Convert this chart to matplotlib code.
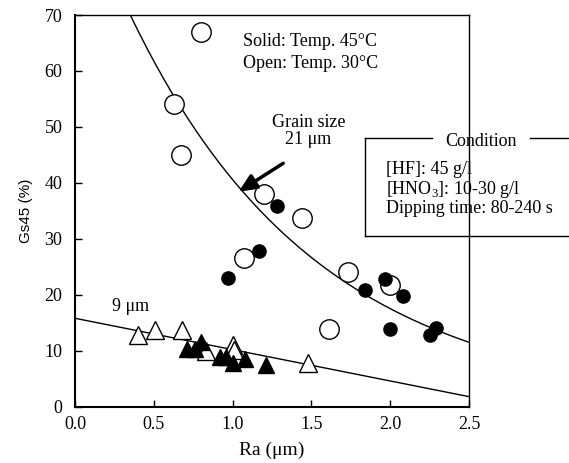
import numpy as np
import matplotlib
matplotlib.use("Agg")
import matplotlib.pyplot as plt
from matplotlib.lines import Line2D

plt.rcParams['font.family'] = ['Liberation Serif', 'DejaVu Serif']
plt.rcParams['mathtext.fontset'] = 'custom'
plt.rcParams['mathtext.rm'] = 'Liberation Serif'

# Grain size 21 um, open = 30 C, solid = 45 C
open_circ_x = [0.80, 0.63, 0.67, 1.20, 1.44, 1.07, 1.73, 2.00, 1.61]
open_circ_y = [66.9, 54.1, 45.0, 38.0, 33.8, 26.6, 24.0, 21.7, 13.9]
solid_circ_x = [1.28, 1.17, 0.97, 1.84, 1.97, 2.08, 2.00, 2.25, 2.29]
solid_circ_y = [35.9, 27.8, 23.0, 20.9, 22.8, 19.8, 13.9, 12.8, 14.0]

# Grain size 9 um
open_tri_x = [0.40, 0.51, 0.68, 0.83, 1.00, 1.01, 1.48]
open_tri_y = [12.8, 13.7, 13.7, 10.0, 11.0, 10.2, 7.8]
solid_tri_x = [0.71, 0.76, 0.80, 0.92, 0.96, 1.00, 1.08, 1.21]
solid_tri_y = [10.4, 10.4, 11.5, 8.8, 8.8, 7.8, 8.5, 7.5]

# fitted curves
upper_a, upper_k = 94.0, 0.84
lower_a, lower_b = 15.8, -5.6

fig = plt.figure(figsize=(5.69, 4.63), dpi=100)
ax = fig.add_axes([0.1318, 0.1216, 0.6925, 0.846])

xs = np.linspace(0.0, 2.5, 200)
ax.plot(xs, upper_a * np.exp(-upper_k * xs), color='black', lw=1.0)
ax.plot(xs, lower_a + lower_b * xs, color='black', lw=1.0)

ax.plot(open_circ_x, open_circ_y, 'o', ms=14, mfc='white', mec='black', mew=1.0, ls='none')
ax.plot(solid_circ_x, solid_circ_y, 'o', ms=9.5, mfc='black', mec='black', ls='none')
ax.plot(open_tri_x, open_tri_y, '^', ms=13, mfc='white', mec='black', mew=1.0, ls='none')
ax.plot(solid_tri_x, solid_tri_y, '^', ms=11, mfc='black', mec='black', ls='none')

ax.set_xlim(0, 2.5)
ax.set_ylim(0, 70)
ax.set_xticks([0.0, 0.5, 1.0, 1.5, 2.0, 2.5])
ax.set_xticklabels(['0.0', '0.5', '1.0', '1.5', '2.0', '2.5'])
ax.set_yticks(range(0, 71, 10))
ax.tick_params(direction='in', length=5, labelsize=13, width=1.0)
ax.tick_params(axis='y', pad=9)
ax.tick_params(axis='x', pad=7)
for s in ax.spines.values():
    s.set_linewidth(1.0)
ax.spines['left'].set_linewidth(1.5)
ax.spines['bottom'].set_linewidth(1.5)

ax.set_xlabel('Ra (μm)', fontsize=14, labelpad=6)
ax.set_ylabel('Gs45 (%)', fontsize=11, family='Liberation Sans', labelpad=8)

ax.text(1.067, 65.2, 'Solid: Temp. 45°C', fontsize=13, va='center')
ax.text(1.067, 61.3, 'Open: Temp. 30°C', fontsize=13, va='center')
ax.text(1.48, 49.3, 'Grain size\n21 μm', fontsize=13, ha='center', va='center',
        linespacing=1.0)
ax.annotate('', xy=(1.037, 38.4), xytext=(1.321, 43.5),
            arrowprops=dict(arrowstyle='-|>,head_width=0.4,head_length=0.9',
                            lw=2.5, color='black', mutation_scale=12,
                            shrinkA=0, shrinkB=0))
ax.text(0.235, 17.9, '9 μm', fontsize=13, va='center')

# condition box, cut by the right edge of the figure
bl, bt, bb = 365 / 569, 1 - 138.3 / 463, 1 - 236 / 463
for seg in [([bl, 432 / 569], [bt, bt]), ([530 / 569, 1.0], [bt, bt]),
            ([bl, 1.0], [bb, bb]), ([bl, bl], [bt, bb])]:
    fig.add_artist(Line2D(seg[0], seg[1], color='black', lw=1.0))
fig.text(481 / 569, 1 - 141 / 463, 'Condition', fontsize=13, ha='center', va='center')
fig.text(386 / 569, 1 - 169.3 / 463, '[HF]: 45 g/l', fontsize=13, va='center')
fig.text(386 / 569, 1 - 189.3 / 463, '[HNO$_3$]: 10-30 g/l', fontsize=13, va='center')
fig.text(386 / 569, 1 - 208.3 / 463, 'Dipping time: 80-240 s', fontsize=13, va='center')

fig.savefig('out.png', dpi=100)
